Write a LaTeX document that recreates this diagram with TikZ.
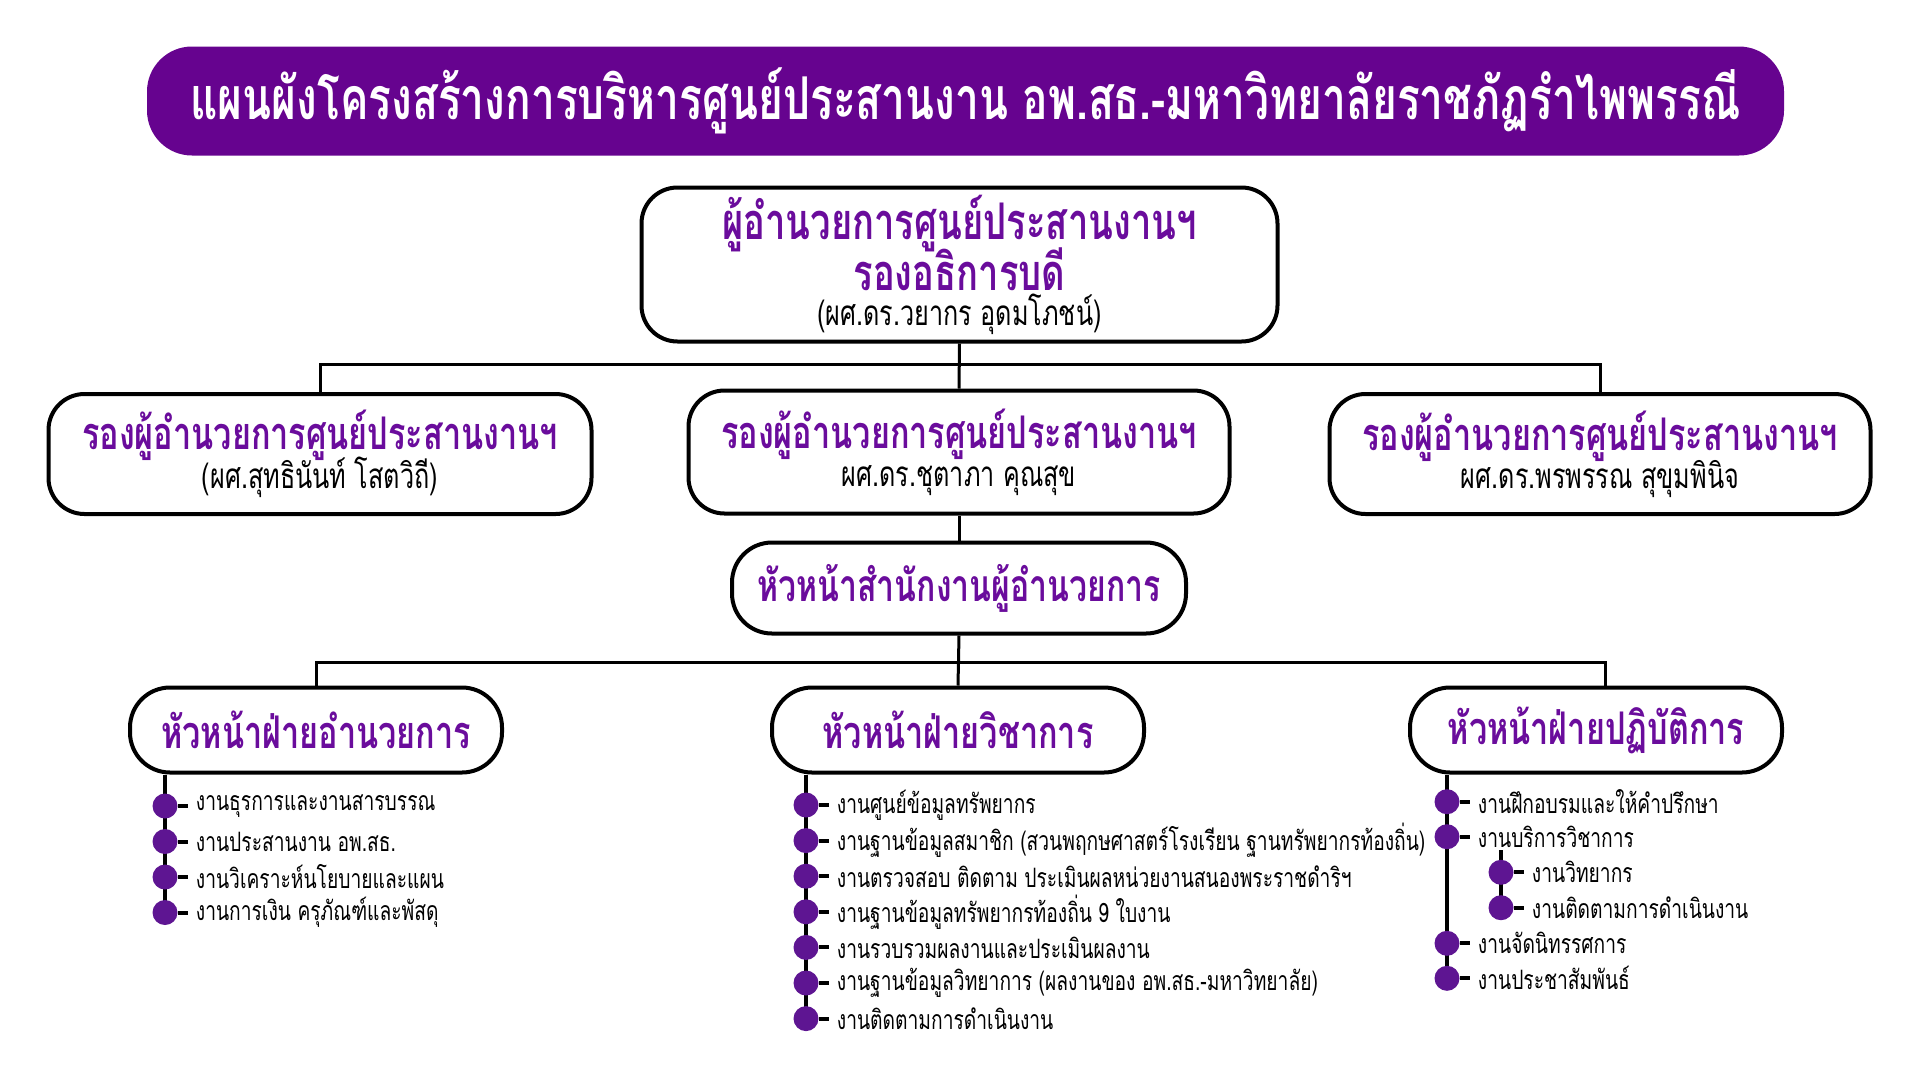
\documentclass[tikz,border=0pt]{standalone}
\usepackage{fontspec}
\setmainfont[Script=Thai,FakeStretch=0.72]{Loma}
\usetikzlibrary{positioning,backgrounds}

\definecolor{bannerpurple}{HTML}{66038F}
\definecolor{headpurple}{HTML}{6A0C9C}
\definecolor{dotpurple}{HTML}{5E1592}

\newcommand{\headline}[1]{\textcolor{headpurple}{\bfseries #1}}

\tikzset{
  banner/.style={fill=bannerpurple, text=white, rounded corners=45pt, inner sep=0pt,
    font=\bfseries\fontsize{59}{66}\selectfont},
  post/.style={draw, line width=4pt, fill=white, rounded corners=36pt, align=center, inner sep=0pt,
    font=\fontsize{35}{42}\selectfont},
  unit/.style={post, rounded corners=40pt, minimum width=372pt, minimum height=85pt,
    text=headpurple, font=\bfseries\fontsize{45}{50}\selectfont},
  leaf/.style={circle, fill=dotpurple, inner sep=0pt, minimum size=25pt},
  job/.style={inner xsep=8pt, inner ysep=0pt, font=\fontsize{26.7}{30}\selectfont},
  link/.style={line width=3pt},
  rail/.style={line width=4pt},
}

\begin{document}
\begin{tikzpicture}[x=1pt, y=-1pt]
\useasboundingbox (0,0) rectangle (1920,1080);

% title banner
\node[banner, minimum width=1637pt, minimum height=109pt] (banner) at (965.5,101)
  {แผนผังโครงสร้างการบริหารศูนย์ประสานงาน อพ.สธ.-มหาวิทยาลัยราชภัฏรำไพพรรณี};

% director and deputies
\node[post, minimum width=636pt, minimum height=154pt] (director) at (959.5,264.5)
  {\fontsize{50.5}{56}\selectfont\headline{ผู้อำนวยการศูนย์ประสานงานฯ}\\[-5pt]
   \fontsize{50.5}{56}\selectfont\headline{รองอธิการบดี}\\[-7pt]
   (ผศ.ดร.วยากร อุดมโภชน์)};
\node[post, minimum width=543pt, minimum height=120pt] (deputyL) at (320,454)
  {\fontsize{45}{50}\selectfont\headline{รองผู้อำนวยการศูนย์ประสานงานฯ}\\[-4pt](ผศ.สุทธินันท์ โสตวิถี)};
\node[post, minimum width=541pt, minimum height=123pt] (deputyM) at (959,452)
  {\fontsize{45}{50}\selectfont\headline{รองผู้อำนวยการศูนย์ประสานงานฯ}\\[-4pt]ผศ.ดร.ชุตาภา คุณสุข};
\node[post, minimum width=541pt, minimum height=120pt] (deputyR) at (1600,454)
  {\fontsize{45}{50}\selectfont\headline{รองผู้อำนวยการศูนย์ประสานงานฯ}\\[-4pt]ผศ.ดร.พรพรรณ สุขุมพินิจ};

% office and sections
\node[unit, minimum width=454pt, minimum height=91pt, font=\bfseries\fontsize{44.4}{50}\selectfont] (office) at (959,588) {หัวหน้าสำนักงานผู้อำนวยการ};
\node[unit] (secAdmin) at (316,730) {หัวหน้าฝ่ายอำนวยการ};
\node[unit] (secAcad)  at (958,730) {หัวหน้าฝ่ายวิชาการ};
\node[unit] (secOps)   at (1596,730) {หัวหน้าฝ่ายปฏิบัติการ};

\draw[link] (deputyL.north) -- ++(0,-28) -| (deputyR.north);
\draw[link] (director.south) -- (deputyM.north);
\draw[link] (deputyM.south) -- (office.north);
\draw[link] (secAdmin.north) -- ++(0,-23) -| ([xshift=9pt]secOps.north);
\draw[link] (office.south) -- (secAcad.north);

% admin jobs
\node[leaf] (admin1) at (165,806) {};
\node[job, right=10pt of admin1] (admin1t) {งานธุรการและงานสารบรรณ};
\node[leaf] (admin2) at (165,841.5) {};
\node[job, right=10pt of admin2] (admin2t) {งานประสานงาน อพ.สธ.};
\node[leaf] (admin3) at (165,877) {};
\node[job, right=10pt of admin3] (admin3t) {งานวิเคราะห์นโยบายและแผน};
\node[leaf] (admin4) at (165,912.5) {};
\node[job, right=10pt of admin4] (admin4t) {งานการเงิน ครุภัณฑ์และพัสดุ};
\draw[rail] (admin1) -- (admin1t);
\draw[rail] (admin2) -- (admin2t);
\draw[rail] (admin3) -- (admin3t);
\draw[rail] (admin4) -- (admin4t);

% academic jobs
\node[leaf] (acad1) at (806,805) {};
\node[job, right=10pt of acad1] (acad1t) {งานศูนย์ข้อมูลทรัพยากร};
\node[leaf] (acad2) at (806,840.6) {};
\node[job, right=10pt of acad2] (acad2t) {งานฐานข้อมูลสมาชิก (สวนพฤกษศาสตร์โรงเรียน ฐานทรัพยากรท้องถิ่น)};
\node[leaf] (acad3) at (806,876.2) {};
\node[job, right=10pt of acad3] (acad3t) {งานตรวจสอบ ติดตาม ประเมินผลหน่วยงานสนองพระราชดำริฯ};
\node[leaf] (acad4) at (806,911.8) {};
\node[job, right=10pt of acad4] (acad4t) {งานฐานข้อมูลทรัพยากรท้องถิ่น 9 ใบงาน};
\node[leaf] (acad5) at (806,947.4) {};
\node[job, right=10pt of acad5] (acad5t) {งานรวบรวมผลงานและประเมินผลงาน};
\node[leaf] (acad6) at (806,983) {};
\node[job, right=10pt of acad6] (acad6t) {งานฐานข้อมูลวิทยาการ (ผลงานของ อพ.สธ.-มหาวิทยาลัย)};
\node[leaf] (acad7) at (806,1018.6) {};
\node[job, right=10pt of acad7] (acad7t) {งานติดตามการดำเนินงาน};
\draw[rail] (acad1) -- (acad1t);
\draw[rail] (acad2) -- (acad2t);
\draw[rail] (acad3) -- (acad3t);
\draw[rail] (acad4) -- (acad4t);
\draw[rail] (acad5) -- (acad5t);
\draw[rail] (acad6) -- (acad6t);
\draw[rail] (acad7) -- (acad7t);

% operations jobs
\node[leaf] (ops1) at (1447,801.7) {};
\node[job, right=10pt of ops1] (ops1t) {งานฝึกอบรมและให้คำปรึกษา};
\node[leaf] (ops2) at (1447,836.7) {};
\node[job, right=10pt of ops2] (ops2t) {งานบริการวิชาการ};
\node[leaf] (serv1) at (1501,872.3) {};
\node[job, right=10pt of serv1] (serv1t) {งานวิทยากร};
\node[leaf] (serv2) at (1501,907.7) {};
\node[job, right=10pt of serv2] (serv2t) {งานติดตามการดำเนินงาน};
\node[leaf] (ops3) at (1447,943.3) {};
\node[job, right=10pt of ops3] (ops3t) {งานจัดนิทรรศการ};
\node[leaf] (ops4) at (1447,978.3) {};
\node[job, right=10pt of ops4] (ops4t) {งานประชาสัมพันธ์};
\draw[rail] (ops1) -- (ops1t);
\draw[rail] (ops2) -- (ops2t);
\draw[rail] (serv1) -- (serv1t);
\draw[rail] (serv2) -- (serv2t);
\draw[rail] (ops3) -- (ops3t);
\draw[rail] (ops4) -- (ops4t);

\begin{scope}[on background layer]
\draw[rail] (secAdmin.south -| admin1) -- (admin4.center);
\draw[rail] (secAcad.south -| acad1) -- (acad7.center);
\draw[rail] (secOps.south -| ops1) -- (ops4.center);
\draw[rail] ([yshift=22pt]serv1.center) -- (serv2.center);
\end{scope}
\end{tikzpicture}
\end{document}
